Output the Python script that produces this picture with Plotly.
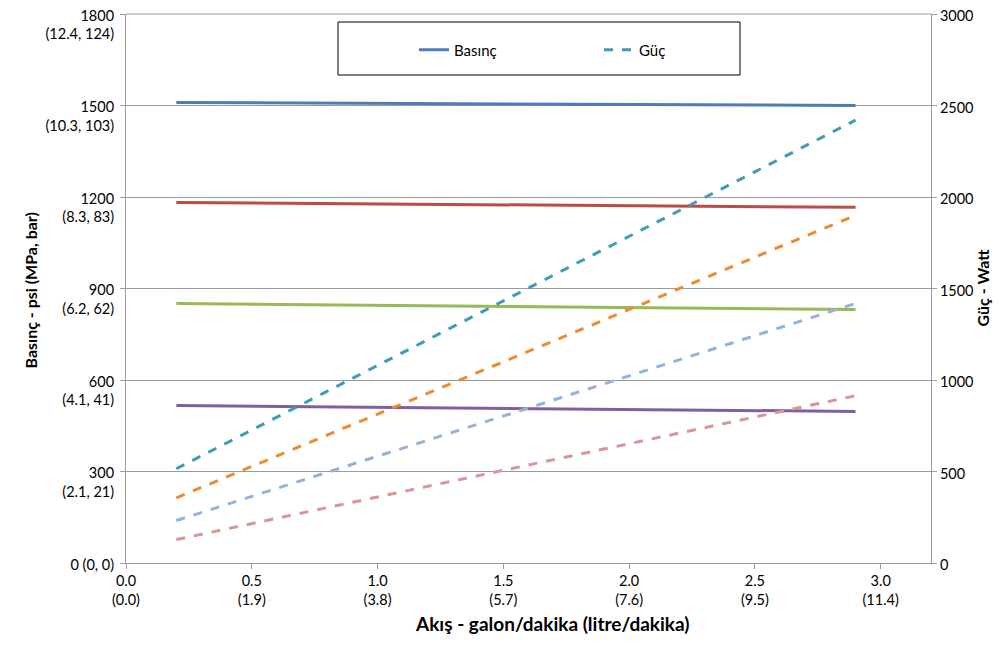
import plotly.graph_objects as go

# Flow (gallon/min)
flow = [0.2, 2.9]

# Pressure series (psi), left axis
pressure_series = {
    "p1500": [1510, 1500],
    "p1200": [1182, 1166],
    "p850": [851, 831],
    "p500": [516, 497],
}
pressure_colors = ["#4A7EBB", "#BE4B48", "#98B954", "#7D60A0"]

# Power series (Watt), right axis
power_series = {
    "w1500": [515, 2420],
    "w1200": [356, 1900],
    "w850": [232, 1418],
    "w500": [128, 914],
}
power_colors = ["#3D9DB3", "#F08A30", "#95B3D7", "#D99694"]

y_left_ticks = [0, 300, 600, 900, 1200, 1500, 1800]
y_left_text = ["0 (0, 0)<br> ", "300<br>(2.1, 21)", "600<br>(4.1, 41)", "900<br>(6.2, 62)",
               "1200<br>(8.3, 83)", "1500<br>(10.3, 103)", "1800<br>(12.4, 124)"]
x_ticks = [0.0, 0.5, 1.0, 1.5, 2.0, 2.5, 3.0]
x_text = ["0.0<br>(0.0)", "0.5<br>(1.9)", "1.0<br>(3.8)", "1.5<br>(5.7)",
          "2.0<br>(7.6)", "2.5<br>(9.5)", "3.0<br>(11.4)"]
y_right_ticks = [0, 500, 1000, 1500, 2000, 2500, 3000]

FONT = "Lato"

fig = go.Figure()
for i, (name, vals) in enumerate(pressure_series.items()):
    fig.add_trace(go.Scatter(x=flow, y=vals, mode="lines",
                             line=dict(color=pressure_colors[i], width=3),
                             name="Basınç", showlegend=(i == 0), yaxis="y"))
for i, (name, vals) in enumerate(power_series.items()):
    fig.add_trace(go.Scatter(x=flow, y=vals, mode="lines",
                             line=dict(color=power_colors[i], width=3, dash="dash"),
                             name="Güç", showlegend=(i == 0), yaxis="y2"))

axis_gray = "#9A9A9A"
fig.update_layout(
    width=995, height=646,
    margin=dict(l=118, r=72, t=6, b=91, autoexpand=False),
    paper_bgcolor="white", plot_bgcolor="white",
    font=dict(family=FONT, size=14, color="#000000"),
    xaxis=dict(range=[0, 3.2], tickvals=x_ticks, ticktext=x_text, automargin=False,
               showgrid=False, zeroline=False, showline=True, linecolor=axis_gray,
               ticks="outside", ticklen=5, tickcolor=axis_gray, tickfont=dict(size=14.5),
               ticklabeloverflow="allow"),
    yaxis=dict(range=[0, 1800], tickvals=y_left_ticks, ticktext=y_left_text, automargin=False,
               showgrid=True, gridcolor=axis_gray, gridwidth=1, zeroline=False,
               showline=True, linecolor=axis_gray, ticks="outside", ticklen=5,
               tickcolor=axis_gray, ticklabelshift=11, ticklabelstandoff=3,
               tickfont=dict(size=14.5), ticklabeloverflow="allow"),
    yaxis2=dict(range=[0, 3000], tickvals=y_right_ticks, overlaying="y", side="right",
                automargin=False,
                showgrid=False, zeroline=False, showline=True, linecolor=axis_gray,
                ticks="outside", ticklen=5, tickcolor=axis_gray, tickfont=dict(size=14.5),
                ticklabelshift=2, ticklabeloverflow="allow"),
    legend=dict(orientation="h", x=(414 - 126) / 805, xanchor="left",
                y=(563 - 50) / 549, yanchor="middle",
                xref="paper", yref="paper", bgcolor="rgba(0,0,0,0)",
                entrywidth=140, font=dict(size=15)),
    shapes=[
        dict(type="rect", xref="paper", yref="paper",
             x0=(338 - 126) / 805, x1=(740 - 126) / 805,
             y0=(563 - 75) / 549, y1=(563 - 22) / 549,
             line=dict(color="black", width=1), fillcolor="white", layer="below"),
        dict(type="line", xref="paper", yref="paper", x0=0, x1=1, y0=1, y1=1,
             line=dict(color=axis_gray, width=1), layer="below"),
    ],
    annotations=[
        dict(text="<b>Basınç - psi (MPa, bar)</b>", xref="paper", yref="paper",
             x=(18 - 126) / 805, y=(563 - 291) / 549, textangle=-90, showarrow=False,
             font=dict(size=16)),
        dict(text="<b>Güç - Watt</b>", xref="paper", yref="paper",
             x=(993 - 126) / 805, y=(563 - 288) / 549, textangle=-90, showarrow=False,
             font=dict(size=16)),
        dict(text="<b>Akış - galon/dakika (litre/dakika)</b>", xref="paper", yref="paper",
             x=(552 - 126) / 805, y=(563 - 637) / 549, showarrow=False,
             font=dict(size=19)),
    ],
)

fig.write_html("out.html")
